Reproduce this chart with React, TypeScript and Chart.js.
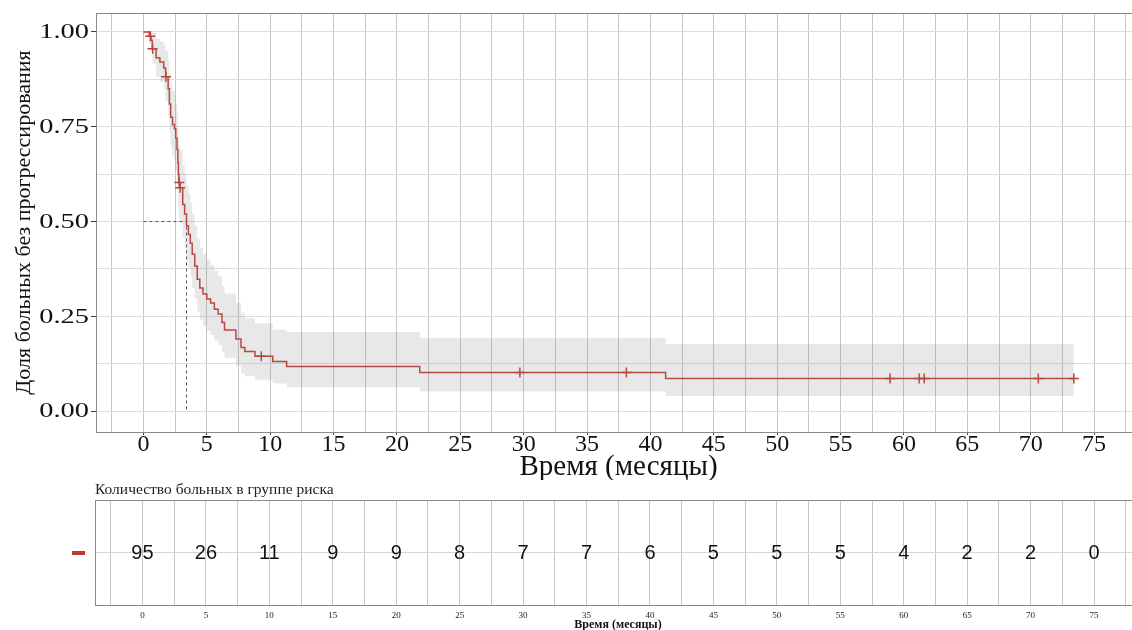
import React, { useEffect, useRef } from 'react';
import { Chart, registerables } from 'chart.js';

Chart.register(...registerables);

// Kaplan–Meier step data (time in months, survival after step)
const kmTimes = [0, 0.45, 0.6, 0.7, 1.0, 1.3, 1.6, 1.75, 1.95, 2.05, 2.15, 2.3, 2.45, 2.55, 2.65, 2.72, 2.76, 2.8, 2.87, 3.1, 3.25, 3.4, 3.55, 3.7, 3.85, 4.05, 4.25, 4.45, 4.7, 5.0, 5.3, 5.6, 5.9, 6.2, 6.4, 7.3, 7.7, 8.0, 8.8, 10.2, 11.3, 21.8, 41.2];
const kmSurv = [1.0, 0.989, 0.978, 0.956, 0.932, 0.921, 0.905, 0.882, 0.85, 0.81, 0.775, 0.756, 0.745, 0.72, 0.69, 0.655, 0.625, 0.603, 0.589, 0.545, 0.52, 0.489, 0.466, 0.443, 0.414, 0.383, 0.348, 0.325, 0.309, 0.296, 0.285, 0.269, 0.256, 0.234, 0.214, 0.19, 0.168, 0.157, 0.145, 0.131, 0.118, 0.102, 0.086];
const kmUpper = [1.0, 1.0, 1.0, 0.998, 0.982, 0.975, 0.965, 0.95, 0.925, 0.89, 0.86, 0.845, 0.835, 0.812, 0.785, 0.752, 0.725, 0.705, 0.69, 0.648, 0.625, 0.595, 0.573, 0.55, 0.52, 0.49, 0.455, 0.43, 0.415, 0.4, 0.385, 0.37, 0.355, 0.33, 0.31, 0.285, 0.26, 0.245, 0.232, 0.215, 0.209, 0.193, 0.177];
const kmLower = [1.0, 0.968, 0.95, 0.916, 0.882, 0.868, 0.848, 0.818, 0.78, 0.735, 0.695, 0.674, 0.662, 0.634, 0.603, 0.567, 0.535, 0.512, 0.498, 0.457, 0.432, 0.4, 0.378, 0.355, 0.325, 0.297, 0.263, 0.24, 0.225, 0.212, 0.2, 0.186, 0.175, 0.155, 0.14, 0.12, 0.1, 0.092, 0.083, 0.073, 0.063, 0.052, 0.04];
const kmEndTime = 73.4;

// Censoring marks
const censorTimes = [0.55, 0.73, 1.78, 2.83, 2.9, 9.3, 29.7, 38.1, 58.9, 61.2, 61.6, 70.6, 73.4];
const censorSurv = [0.989, 0.956, 0.882, 0.603, 0.589, 0.145, 0.102, 0.102, 0.086, 0.086, 0.086, 0.086, 0.086];

// Median survival
const medianTime = 3.4;
const medianSurv = 0.5;

// Risk table
const riskTimes = [0, 5, 10, 15, 20, 25, 30, 35, 40, 45, 50, 55, 60, 65, 70, 75];
const riskCounts = [95, 26, 11, 9, 9, 8, 7, 7, 6, 5, 5, 5, 4, 2, 2, 0];

// Axis texts
const yTickValues = [0, 0.25, 0.5, 0.75, 1.0];
const yTitle = 'Доля больных без прогрессирования';
const xTitle = 'Время (месяцы)';
const riskTitle = 'Количество больных в группе риска';

const X_MIN = -3.74;
const X_MAX = 78.7;
const CANVAS_W = 1160;
const PAD_RIGHT = 19;
const RED = '#bf3a30';
const SERIF = "'Liberation Serif', 'Times New Roman', serif";
const SANS = "'Liberation Sans', Arial, sans-serif";

const isMult = (v: number, m: number) => Math.abs(Math.round(v / m) - v / m) < 1e-6;

const borderPlugin = {
  id: 'panelBorder',
  afterDatasetsDraw(chart: any) {
    const { ctx, chartArea } = chart;
    ctx.save();
    ctx.strokeStyle = '#8a8a8a';
    ctx.lineWidth = 1;
    ctx.strokeRect(Math.round(chartArea.left) + 0.5, Math.round(chartArea.top) + 0.5,
      Math.round(chartArea.right - chartArea.left) - 1, Math.round(chartArea.bottom - chartArea.top));
    ctx.restore();
  },
};

// y tick labels (drawn wide, as in the reference)
const yLabelPlugin = {
  id: 'yLabels',
  afterDraw(chart: any) {
    const { ctx, chartArea, scales } = chart;
    ctx.save();
    ctx.fillStyle = '#111';
    ctx.font = `20px ${SERIF}`;
    ctx.textAlign = 'right';
    ctx.textBaseline = 'middle';
    yTickValues.forEach((v) => {
      const y = scales.y.getPixelForValue(v);
      ctx.save();
      ctx.translate(chartArea.left - 7, y + 1);
      ctx.scale(1.42, 1);
      ctx.fillText(v.toFixed(2), 0, 0);
      ctx.restore();
    });
    ctx.restore();
  },
};

function stepPoints(vals: number[]) {
  const pts = kmTimes.map((t, i) => ({ x: t, y: vals[i] }));
  pts.push({ x: kmEndTime, y: vals[vals.length - 1] });
  return pts;
}

function KMChart() {
  const ref = useRef<HTMLCanvasElement>(null);
  useEffect(() => {
    const chart = new Chart(ref.current!, {
      type: 'line',
      data: {
        datasets: [
          {
            data: stepPoints(kmUpper),
            stepped: 'before',
            borderColor: 'rgba(0,0,0,0)',
            borderWidth: 0,
            pointRadius: 0,
            fill: false,
          },
          {
            data: stepPoints(kmLower),
            stepped: 'before',
            borderColor: 'rgba(0,0,0,0)',
            borderWidth: 0,
            pointRadius: 0,
            fill: '-1',
            backgroundColor: 'rgba(140,140,140,0.2)',
          },
          {
            data: stepPoints(kmSurv),
            stepped: 'before',
            borderColor: RED,
            borderWidth: 1.5,
            pointRadius: 0,
            fill: false,
          },
          {
            data: censorTimes.map((t, i) => ({ x: t, y: censorSurv[i] })),
            showLine: false,
            pointStyle: 'cross',
            pointRadius: 5,
            borderColor: RED,
            borderWidth: 1.5,
            backgroundColor: RED,
          },
          {
            data: [
              { x: 0, y: medianSurv },
              { x: medianTime, y: medianSurv },
              { x: medianTime, y: 0 },
            ],
            borderColor: '#555',
            borderWidth: 1,
            borderDash: [3, 3],
            pointRadius: 0,
            fill: false,
          },
        ],
      },
      options: {
        animation: false,
        responsive: false,
        events: [],
        layout: { padding: { top: 13, right: PAD_RIGHT, left: 0, bottom: 0 } },
        plugins: { legend: { display: false }, tooltip: { enabled: false } },
        scales: {
          x: {
            type: 'linear',
            min: X_MIN,
            max: X_MAX,
            afterFit: (s: any) => { s.height = 48; },
            border: { display: false },
            grid: {
              color: '#c6c6c6',
              lineWidth: 1,
              drawTicks: true,
              tickLength: 3,
              tickColor: (c: any) => (c.tick && isMult(c.tick.value, 5) ? '#444' : 'rgba(0,0,0,0)'),
            },
            ticks: {
              stepSize: 2.5,
              includeBounds: false,
              autoSkip: false,
              maxRotation: 0,
              padding: 0,
              color: '#111',
              font: { family: SERIF, size: 24, lineHeight: 0.8 },
              callback: (v: any) => (isMult(Number(v), 5) ? String(Math.round(Number(v))) : ''),
            },
            title: {
              display: true,
              text: xTitle,
              color: '#111',
              font: { family: SERIF, size: 29 },
              padding: { top: 0, bottom: -5 },
            },
          },
          y: {
            type: 'linear',
            min: -0.055,
            max: 1.05,
            afterFit: (s: any) => { s.width = 96; },
            border: { display: false },
            grid: {
              color: '#dcdcdc',
              lineWidth: 1,
              drawTicks: true,
              tickLength: 5,
              tickColor: (c: any) => (c.tick && isMult(c.tick.value, 0.25) ? '#444' : 'rgba(0,0,0,0)'),
            },
            ticks: {
              stepSize: 0.125,
              includeBounds: false,
              autoSkip: false,
              display: false,
            },
            title: {
              display: true,
              text: yTitle,
              color: '#111',
              font: { family: SERIF, size: 22 },
              padding: { top: 11, bottom: 0 },
            },
          },
        },
      },
      plugins: [borderPlugin, yLabelPlugin],
    } as any);
    return () => chart.destroy();
  }, []);
  return <canvas ref={ref} width={CANVAS_W} height={480} style={{ position: 'absolute', left: 0, top: 0, display: 'block' }} />;
}

const riskPlugin = {
  id: 'riskText',
  afterDraw(chart: any) {
    const { ctx, chartArea, scales } = chart;
    const yMid = scales.y.getPixelForValue(1);
    ctx.save();
    ctx.fillStyle = '#222';
    ctx.font = `15.5px ${SERIF}`;
    ctx.textAlign = 'left';
    ctx.textBaseline = 'middle';
    ctx.fillText(riskTitle, chartArea.left, chartArea.top - 10);
    ctx.font = `20px ${SANS}`;
    ctx.textAlign = 'center';
    ctx.fillStyle = '#111';
    riskTimes.forEach((t, i) => {
      ctx.fillText(String(riskCounts[i]), scales.x.getPixelForValue(t), yMid + 1);
    });
    ctx.fillStyle = RED;
    ctx.fillRect(chartArea.left - 23, Math.round(yMid) - 2, 13, 4);
    ctx.restore();
  },
};

function RiskTable() {
  const ref = useRef<HTMLCanvasElement>(null);
  useEffect(() => {
    const chart = new Chart(ref.current!, {
      type: 'line',
      data: { datasets: [{ data: [], pointRadius: 0 }] },
      options: {
        animation: false,
        responsive: false,
        events: [],
        layout: { padding: { top: 20, right: PAD_RIGHT, left: 0, bottom: 0 } },
        plugins: { legend: { display: false }, tooltip: { enabled: false } },
        scales: {
          x: {
            type: 'linear',
            min: X_MIN,
            max: X_MAX,
            afterFit: (s: any) => { s.height = 25; },
            border: { display: false },
            grid: { color: '#c6c6c6', drawTicks: true, tickLength: 3, tickColor: 'rgba(0,0,0,0)' },
            ticks: {
              stepSize: 2.5,
              includeBounds: false,
              autoSkip: false,
              maxRotation: 0,
              padding: 2,
              color: '#222',
              font: { family: SERIF, size: 9 },
              callback: (v: any) => (isMult(Number(v), 5) ? String(Math.round(Number(v))) : ''),
            },
            title: {
              display: true,
              text: xTitle,
              color: '#111',
              font: { family: SERIF, size: 12, weight: 'bold', lineHeight: 0.8 },
              padding: { top: 0, bottom: 0 },
            },
          },
          y: {
            type: 'linear',
            min: 0,
            max: 2,
            afterFit: (s: any) => { s.width = 95; },
            border: { display: false },
            grid: { color: '#d6d6d6', drawTicks: false },
            ticks: { stepSize: 1, display: false },
          },
        },
      },
      plugins: [borderPlugin, riskPlugin],
    } as any);
    return () => chart.destroy();
  }, []);
  return <canvas ref={ref} width={CANVAS_W} height={150} style={{ position: 'absolute', left: 0, top: 480, display: 'block' }} />;
}

export default function App() {
  return (
    <div style={{ position: 'absolute', left: 0, top: 0, width: 1132, height: 630, background: '#fff', overflow: 'hidden' }}>
      <KMChart />
      <RiskTable />
    </div>
  );
}
